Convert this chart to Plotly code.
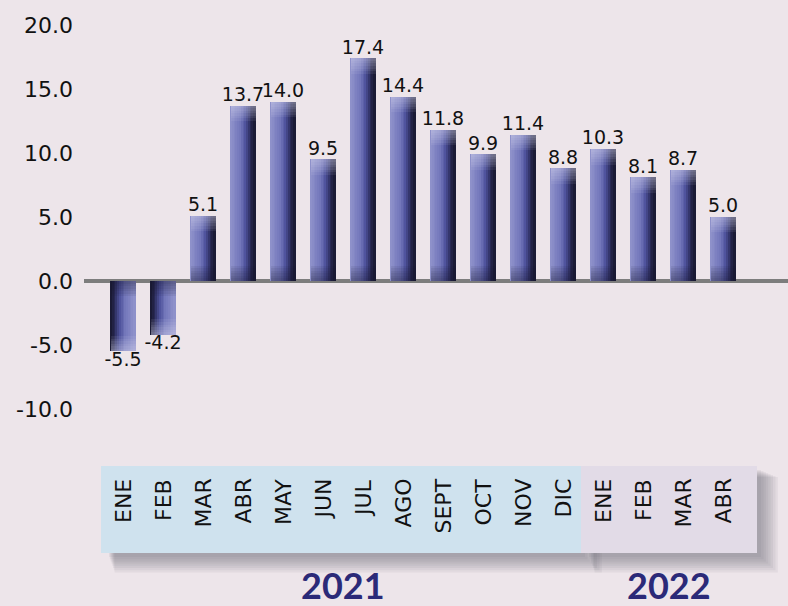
import plotly.graph_objects as go

# data
months = ["ENE", "FEB", "MAR", "ABR", "MAY", "JUN", "JUL", "AGO", "SEPT", "OCT", "NOV", "DIC",
          "ENE", "FEB", "MAR", "ABR"]
values = [-5.5, -4.2, 5.1, 13.7, 14.0, 9.5, 17.4, 14.4, 11.8, 9.9, 11.4, 8.8,
          10.3, 8.1, 8.7, 5.0]
years = ["2021", "2022"]
year_counts = [12, 4]
y_ticks = [-10, -5, 0, 5, 10, 15, 20]

W, H = 788, 606
BG = "#ede5ea"
NAVY = "#2b2a78"
FONT = "DejaVu Sans"

x_pos = list(range(len(values)))


def mix(stops, t):
    for (t0, c0), (t1, c1) in zip(stops, stops[1:]):
        if t <= t1:
            f = (t - t0) / (t1 - t0) if t1 > t0 else 0
            return "rgb(%d,%d,%d)" % tuple(round(a + (b - a) * f) for a, b in zip(c0, c1))
    return "rgb(%d,%d,%d)" % stops[-1][1]


grad = [(0.0, (145, 148, 204)), (0.4, (114, 118, 186)), (0.62, (78, 82, 156)),
        (0.82, (40, 41, 84)), (1.0, (24, 24, 46))]

fig = go.Figure()

# bars as overlaid stripes to fake the horizontal gradient
bar_w = 0.625
n_strips = 14
sw = bar_w / n_strips
for k in range(n_strips):
    t = (k + 0.5) / n_strips
    cols = [mix(grad, t) if v >= 0 else mix(grad, 1 - t) for v in values]
    fig.add_trace(go.Bar(
        x=x_pos, y=values, width=sw * 1.08, offset=-bar_w / 2 + k * sw,
        marker=dict(color=cols, line=dict(width=0)),
        hoverinfo="skip", showlegend=False
    ))

# light glow at the outer end, shade near the baseline
for d in [0.2, 0.4, 0.6, 0.8, 1.0, 1.2]:
    fig.add_trace(go.Bar(
        x=x_pos, y=[d if v >= 0 else -d for v in values],
        base=[v - d if v >= 0 else v + d for v in values],
        width=bar_w, marker=dict(color="rgba(225,225,245,0.09)", line=dict(width=0)),
        hoverinfo="skip", showlegend=False
    ))
    fig.add_trace(go.Bar(
        x=x_pos, y=[d if v >= 0 else -d for v in values],
        width=bar_w, marker=dict(color="rgba(20,20,45,0.08)", line=dict(width=0)),
        hoverinfo="skip", showlegend=False
    ))

# value labels
fig.add_trace(go.Scatter(
    x=x_pos, y=values, mode="text",
    text=["%.1f" % v for v in values],
    textposition=["bottom center" if v < 0 else "top center" for v in values],
    textfont=dict(family=FONT, size=19, color="#111111"),
    hoverinfo="skip", showlegend=False
))


def py(p):
    return 1 - p / H


shapes = []
annotations = []

# category boxes with soft shadow
starts = [0, year_counts[0]]
box_fill = ["#cfe2ee", "#e2dbe7"]
box_right_pad = [0.45, 0.85]
for i, n in enumerate(year_counts):
    x0 = starts[i] - 0.55
    x1 = starts[i] + n - 1 + box_right_pad[i]
    for j in range(8):
        dx = 0.1 + j * 0.06
        dy = 4 + j * 2.2
        shapes.append(dict(type="rect", xref="x", yref="paper",
                           x0=x0 + 0.2 + j * 0.02, x1=x1 + dx, y0=py(553 + dy), y1=py(470 + j),
                           fillcolor="rgba(90,85,95,0.07)", line=dict(width=0), layer="below"))
    shapes.append(dict(type="rect", xref="x", yref="paper", x0=x0, x1=x1,
                       y0=py(553), y1=py(466), fillcolor=box_fill[i],
                       line=dict(width=0), layer="below"))
    annotations.append(dict(x=starts[i] + (n - 1) / 2 + (0 if i == 0 else 0.15), xref="x",
                            y=py(585), yref="paper", text="<b>%s</b>" % years[i],
                            showarrow=False, yanchor="middle",
                            font=dict(family="Lato", size=36, color=NAVY)))

for i, m in enumerate(months):
    annotations.append(dict(x=i, xref="x", y=py(477), yref="paper", text=m,
                            textangle=-90, showarrow=False, yanchor="top",
                            font=dict(family=FONT, size=22, color="#111111")))

# pixel-to-data mapping: value 20 at y=25, 12.8 px per unit
y_top = 20 + 25 / 12.8
y_bot = 20 - (H - 25) / 12.8
x_left = -0.5 - (103 - 84) / 40
x_right = 15.5 + (788 - 743) / 40

fig.update_layout(
    width=W, height=H,
    margin=dict(l=84, r=0, t=0, b=0),
    paper_bgcolor=BG, plot_bgcolor=BG,
    barmode="overlay", bargap=0,
    shapes=shapes, annotations=annotations,
    xaxis=dict(range=[x_left, x_right], visible=False),
    yaxis=dict(range=[y_bot, y_top], tickvals=y_ticks,
               ticktext=["%.1f" % t for t in y_ticks],
               showgrid=False, zeroline=True, zerolinecolor="#7d7d7d", zerolinewidth=4,
               showline=False, ticks="", ticklabelstandoff=10,
               tickfont=dict(family=FONT, size=22, color="#111111")),
)

fig.write_html(
    "out.html",
    config={"displayModeBar": False},
    post_script="document.body.style.margin='0';document.body.style.overflow='hidden';"
                "document.body.style.background='%s';" % BG,
)
